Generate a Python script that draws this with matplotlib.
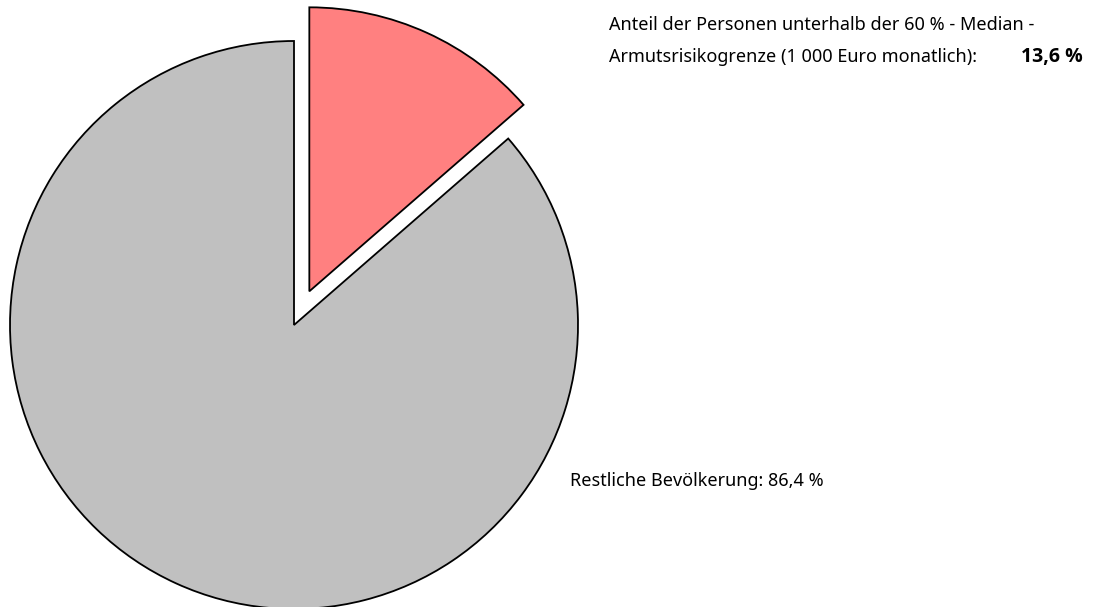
import numpy as np
import matplotlib
matplotlib.use("Agg")
import matplotlib.pyplot as plt

plt.rcParams['font.family'] = ['Noto Sans', 'DejaVu Sans']

# Data
labels = ["Anteil der Personen unterhalb der 60 % - Median - Armutsrisikogrenze (1 000 Euro monatlich)",
          "Restliche Bevölkerung"]
shares = [13.6, 86.4]
colors = ["#FF8080", "#C0C0C0"]

W, H = 1093, 607
R = 284
explode = [37, 0]   # offset in pixels (pie uses data units)

fig = plt.figure(figsize=(W / 100, H / 100), dpi=100)
ax = fig.add_axes([0, 0, 1, 1])

# pie in pixel coordinates (y measured from bottom)
ax.pie(shares, colors=colors, explode=explode, startangle=90, counterclock=False,
       center=(294, H - 325), radius=R,
       wedgeprops=dict(edgecolor="black", linewidth=1.3))

ax.set_xlim(0, W)
ax.set_ylim(0, H)
ax.set_aspect("equal")
ax.axis("off")

fs = 13
ax.text(609, H - 25, "Anteil der Personen unterhalb der 60 % - Median -",
        fontsize=fs, va="center", ha="left")
ax.text(609, H - 57, "Armutsrisikogrenze (1 000 Euro monatlich):",
        fontsize=fs, va="center", ha="left")
ax.text(1083, H - 57, f"{shares[0]:.1f} %".replace(".", ","),
        fontsize=14, va="center", ha="right", fontweight="bold",
        family=["Open Sans", "DejaVu Sans"])
ax.text(570, H - 481, f"Restliche Bevölkerung: {shares[1]:.1f} %".replace(".", ","),
        fontsize=fs, va="center", ha="left")

plt.savefig("out.png", dpi=100)
